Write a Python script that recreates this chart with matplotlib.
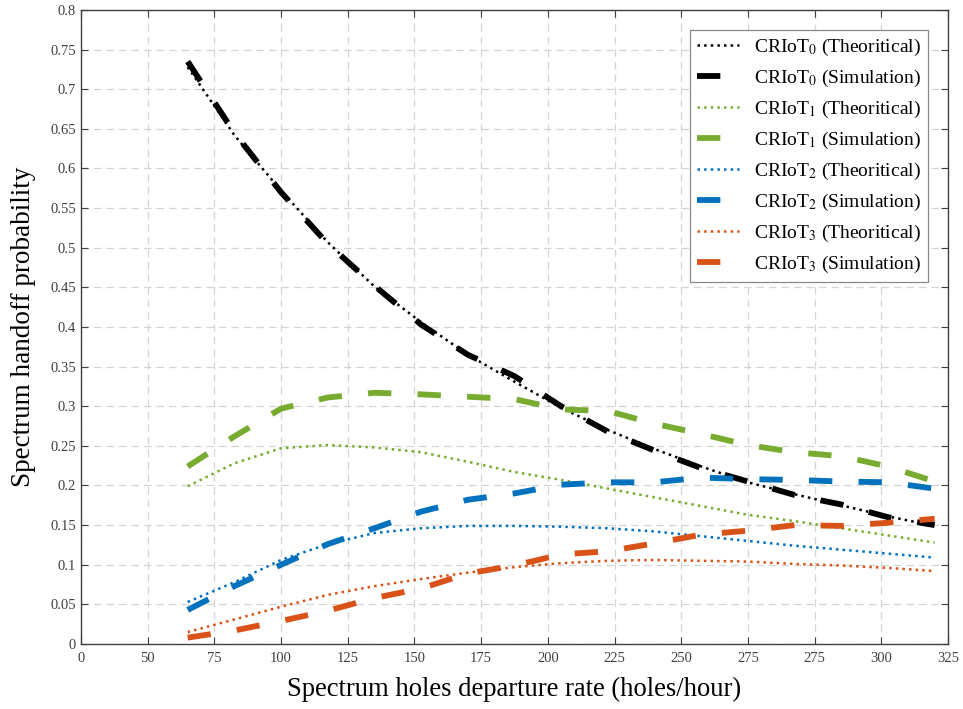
import matplotlib
matplotlib.use("Agg")
import matplotlib.pyplot as plt

# x positions of the samples (tick positions run 25..350, labelled as in the original)
rate = [65, 82.5, 100, 117.5, 135, 152.5, 170, 187.5, 205, 222.5,
        240, 257.5, 275, 292.5, 310, 327.5, 345]

tick_pos = [25, 50, 75, 100, 125, 150, 175, 200, 225, 250, 275, 300, 325, 350]
tick_lab = ['0', '50', '75', '100', '125', '150', '175', '200', '225',
            '250', '275', '275', '300', '325']

t0_theo = [0.728, 0.642, 0.572, 0.507, 0.451, 0.406, 0.365, 0.331, 0.298,
           0.270, 0.246, 0.224, 0.204, 0.189, 0.175, 0.161, 0.149]
t0_sim = [0.735, 0.645, 0.570, 0.505, 0.452, 0.403, 0.365, 0.338, 0.300,
          0.268, 0.244, 0.222, 0.205, 0.188, 0.176, 0.160, 0.150]

t1_theo = [0.199, 0.228, 0.247, 0.251, 0.248, 0.242, 0.230, 0.217, 0.207,
           0.196, 0.185, 0.174, 0.163, 0.155, 0.146, 0.137, 0.128]
t1_sim = [0.224, 0.262, 0.297, 0.311, 0.317, 0.315, 0.312, 0.309, 0.296,
          0.294, 0.278, 0.265, 0.251, 0.242, 0.237, 0.224, 0.205]

t2_theo = [0.053, 0.078, 0.106, 0.126, 0.140, 0.146, 0.149, 0.149, 0.148,
           0.146, 0.142, 0.136, 0.130, 0.124, 0.119, 0.114, 0.109]
t2_sim = [0.043, 0.073, 0.100, 0.126, 0.146, 0.167, 0.182, 0.190, 0.201,
          0.204, 0.204, 0.210, 0.208, 0.207, 0.205, 0.204, 0.196]

t3_theo = [0.015, 0.031, 0.047, 0.062, 0.073, 0.082, 0.090, 0.097, 0.102,
           0.105, 0.106, 0.105, 0.104, 0.101, 0.099, 0.096, 0.092]
t3_sim = [0.008, 0.017, 0.029, 0.042, 0.058, 0.070, 0.089, 0.099, 0.113,
          0.117, 0.127, 0.138, 0.143, 0.150, 0.149, 0.153, 0.158]

series = [
    (t0_theo, t0_sim, '#000000', '0'),
    (t1_theo, t1_sim, '#77AC30', '1'),
    (t2_theo, t2_sim, '#0072BD', '2'),
    (t3_theo, t3_sim, '#D95319', '3'),
]

plt.rcParams['mathtext.fontset'] = 'stix'

fig = plt.figure(figsize=(9.63, 7.09), dpi=100)
ax = fig.add_axes([0.0841, 0.0917, 0.9003, 0.8942])

for theo, sim, col, k in series:
    ax.plot(rate, theo, linestyle=':', linewidth=1.8, color=col,
            label='CRIoT$_{%s}$ (Theoritical)' % k)
    ax.plot(rate, sim, linestyle=(0, (4, 4.5)), linewidth=4.2, color=col,
            dash_capstyle='butt', label='CRIoT$_{%s}$ (Simulation)' % k)

ax.set_xlim(25, 350)
ax.set_ylim(0, 0.8)
ax.set_xticks(tick_pos)
ax.set_xticklabels(tick_lab)
ax.set_yticks([i * 0.05 for i in range(17)])
ax.set_yticklabels(['0', '0.05', '0.1', '0.15', '0.2', '0.25', '0.3', '0.35',
                    '0.4', '0.45', '0.5', '0.55', '0.6', '0.65', '0.7',
                    '0.75', '0.8'])

ax.grid(True, linestyle=(0, (6, 4)), color='#d4d4d4', linewidth=0.9)
ax.set_axisbelow(True)
ax.tick_params(direction='in', top=True, right=True, length=5, width=0.8,
               colors='#404040', labelsize=10.5, labelcolor='#404040')
ax.tick_params(axis='x', pad=6)
for lab in ax.get_xticklabels() + ax.get_yticklabels():
    lab.set_family('Liberation Serif')
for sp in ax.spines.values():
    sp.set_color('#404040')
    sp.set_linewidth(1.0)

ax.set_xlabel('Spectrum holes departure rate (holes/hour)',
              family='Liberation Serif', fontsize=19.2, labelpad=8)
ax.set_ylabel('Spectrum handoff probability',
              family='Liberation Serif', fontsize=19.5, labelpad=10)

leg = ax.legend(loc='upper right', bbox_to_anchor=(0.977, 0.9685),
                borderaxespad=0,
                prop={'family': 'Liberation Serif', 'size': 14},
                fancybox=False, edgecolor='#888888', framealpha=1,
                handlelength=2.15, labelspacing=0.51, borderpad=0.35)
leg.get_frame().set_linewidth(0.9)

fig.savefig('out.png', dpi=100)
